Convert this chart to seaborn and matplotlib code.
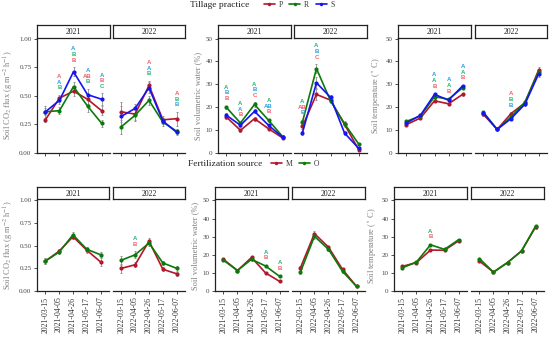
import matplotlib
matplotlib.use("Agg")
import matplotlib.pyplot as plt
import seaborn as sns
import pandas as pd
from matplotlib.lines import Line2D

# sampling dates (one facet per year)
dates = ["2021-03-15", "2021-04-05", "2021-04-26", "2021-05-17", "2021-06-07",
         "2022-03-15", "2022-04-05", "2022-04-26", "2022-05-17", "2022-06-07"]
years = ["2021", "2022"]

# tillage practice: P, R, S
tillage = ["P", "R", "S"]
co2_P = [0.29, 0.48, 0.54, 0.47, 0.37, 0.36, 0.34, 0.59, 0.29, 0.30]
co2_R = [0.36, 0.37, 0.58, 0.41, 0.26, 0.23, 0.33, 0.46, 0.27, 0.19]
co2_S = [0.36, 0.46, 0.71, 0.51, 0.47, 0.32, 0.39, 0.57, 0.28, 0.18]
co2_P_se = [0.02, 0.03, 0.04, 0.04, 0.04, 0.09, 0.05, 0.04, 0.03, 0.06]
co2_R_se = [0.03, 0.03, 0.04, 0.05, 0.03, 0.06, 0.05, 0.04, 0.03, 0.02]
co2_S_se = [0.05, 0.03, 0.04, 0.05, 0.05, 0.09, 0.04, 0.05, 0.03, 0.02]

swc_P = [15.7, 9.9, 15.0, 10.6, 6.6, 11.6, 25.6, 23.1, 12.5, 1.5]
swc_R = [19.9, 13.1, 21.2, 14.3, 7.2, 13.5, 36.9, 22.8, 12.8, 4.0]
swc_S = [16.5, 12.1, 18.2, 12.1, 6.9, 8.8, 30.7, 24.3, 8.7, 2.1]
swc_P_se = [0.8, 0.6, 0.8, 0.7, 0.6, 1.0, 2.5, 1.0, 1.0, 0.4]
swc_R_se = [0.8, 0.6, 0.9, 0.7, 0.6, 1.0, 2.0, 1.0, 1.0, 0.4]
swc_S_se = [0.8, 0.6, 0.9, 0.7, 0.6, 1.0, 2.5, 1.0, 1.0, 0.4]

tmp_P = [12.4, 15.3, 22.8, 21.5, 25.6, 16.9, 10.3, 17.2, 21.9, 36.3]
tmp_R = [13.8, 16.2, 24.6, 23.5, 28.5, 17.9, 10.3, 15.7, 22.1, 35.6]
tmp_S = [13.1, 16.5, 25.6, 23.1, 29.3, 17.5, 10.3, 15.0, 21.3, 34.6]
tmp_P_se = [0.5, 0.5, 0.6, 0.5, 0.5, 0.6, 0.4, 0.6, 0.6, 1.2]
tmp_R_se = [0.5, 0.5, 0.6, 0.5, 0.5, 0.6, 0.4, 0.6, 0.6, 1.2]
tmp_S_se = [0.5, 0.5, 0.6, 0.5, 0.5, 0.6, 0.4, 0.6, 0.6, 1.2]

# fertilization source: M, O
fert = ["M", "O"]
co2_M = [0.33, 0.44, 0.60, 0.45, 0.32, 0.25, 0.29, 0.55, 0.24, 0.19]
co2_O = [0.33, 0.43, 0.62, 0.46, 0.40, 0.34, 0.40, 0.53, 0.31, 0.25]
co2_M_se = [0.03, 0.02, 0.03, 0.03, 0.04, 0.05, 0.03, 0.03, 0.02, 0.02]
co2_O_se = [0.03, 0.02, 0.03, 0.03, 0.03, 0.05, 0.04, 0.03, 0.02, 0.03]

swc_M = [17.5, 11.3, 18.5, 10.0, 5.3, 12.8, 31.7, 24.2, 11.9, 2.5]
swc_O = [17.0, 11.3, 17.5, 13.8, 8.1, 10.4, 30.2, 23.0, 10.8, 2.5]
swc_M_se = [0.6, 0.6, 0.7, 0.6, 0.5, 0.8, 1.5, 0.8, 0.8, 0.3]
swc_O_se = [0.6, 0.6, 0.7, 0.6, 0.5, 0.8, 1.5, 0.8, 0.8, 0.3]

tmp_M = [13.6, 15.7, 22.6, 22.5, 27.7, 16.5, 10.4, 15.7, 22.1, 35.3]
tmp_O = [12.8, 16.0, 25.5, 23.0, 28.3, 17.9, 10.4, 15.7, 22.1, 35.8]
tmp_M_se = [0.4, 0.4, 0.5, 0.4, 0.4, 0.5, 0.3, 0.4, 0.4, 0.8]
tmp_O_se = [0.4, 0.4, 0.5, 0.4, 0.4, 0.5, 0.3, 0.4, 0.4, 0.8]

# significance letters: date index -> (letter, group) from top to bottom
co2_till_letters = {1: [("A", "P"), ("A", "S"), ("B", "R")],
                    2: [("A", "S"), ("B", "R"), ("B", "P")],
                    3: [("A", "S"), ("AB", "P"), ("B", "R")],
                    4: [("A", "S"), ("B", "P"), ("C", "R")],
                    7: [("A", "P"), ("A", "S"), ("B", "R")],
                    9: [("A", "P"), ("B", "R"), ("B", "S")]}
swc_till_letters = {0: [("A", "R"), ("B", "S"), ("B", "P")],
                    1: [("A", "R"), ("A", "S"), ("B", "P")],
                    2: [("A", "R"), ("B", "S"), ("C", "P")],
                    3: [("A", "R"), ("AB", "S"), ("B", "P")],
                    5: [("A", "R"), ("AB", "P"), ("B", "S")],
                    6: [("A", "R"), ("B", "S"), ("C", "P")]}
tmp_till_letters = {2: [("A", "S"), ("A", "R"), ("B", "P")],
                    3: [("A", "S"), ("A", "R"), ("B", "P")],
                    4: [("A", "S"), ("A", "R"), ("B", "P")],
                    7: [("A", "P"), ("B", "R"), ("B", "S")]}
co2_fert_letters = {6: [("A", "O"), ("B", "M")]}
swc_fert_letters = {3: [("A", "O"), ("B", "M")], 4: [("A", "O"), ("B", "M")]}
tmp_fert_letters = {2: [("A", "O"), ("B", "M")]}

line_cols = {"P": "#B2182B", "R": "#0B7A0B", "S": "#1515F0",
             "M": "#B2182B", "O": "#0B7A0B"}
letter_cols = {"P": "#F0606A", "R": "#22B573", "S": "#2A9FE0",
               "M": "#F0606A", "O": "#22B573"}

W, H = 550, 337

sns.set_theme(style="ticks")
plt.rcParams["font.family"] = ["Liberation Serif", "DejaVu Serif"]
plt.rcParams["mathtext.fontset"] = "stix"


def rect(x0, y0, x1, y1):
    return [x0 / W, 1 - y1 / H, (x1 - x0) / W, (y1 - y0) / H]


def long_df(groups, vals, ses):
    rows = []
    for g, v, s in zip(groups, vals, ses):
        for i, d in enumerate(dates):
            rows.append(dict(date=d, year=d[:4], idx=i, pos=i % 5,
                             group=g, value=v[i], se=s[i]))
    return pd.DataFrame(rows)


def draw_panel(fig, xs, y0, y1, df, order, letters, ylim, yticks, ytlabels,
               ylabel, show_dates):
    for k, yr in enumerate(years):
        x0, x1 = xs[k]
        ax = fig.add_axes(rect(x0, y0, x1, y1))
        sub = df[df.year == yr]
        ax.errorbar(sub.pos, sub.value, yerr=sub.se, fmt="none",
                    ecolor="#8a8a8a", elinewidth=0.6, capsize=0.8,
                    capthick=0.6, zorder=1)
        sns.lineplot(data=sub, x="pos", y="value", hue="group",
                     hue_order=order, palette=line_cols, marker="o",
                     markersize=3, markeredgewidth=0, linewidth=1.2,
                     legend=False, ax=ax, errorbar=None, sort=False, zorder=2)
        for idx, labs in letters.items():
            if dates[idx][:4] != yr:
                continue
            pts = sub[sub.idx == idx]
            top = (pts.value + pts.se).max()
            for j, (txt, g) in enumerate(reversed(labs)):
                ax.annotate(txt, (idx % 5, top), xytext=(0, 5 + 4.1 * j),
                            textcoords="offset points", ha="center",
                            va="center", color=letter_cols[g], fontsize=4.3,
                            fontweight="bold", family="Liberation Sans",
                            annotation_clip=False)
        ax.set_xlim(-0.6, 4.6)
        ax.set_ylim(*ylim)
        ax.set_xticks(range(5))
        ax.set_xlabel("")
        ax.set_facecolor("white")
        for s in ["top", "right"]:
            ax.spines[s].set_visible(False)
        ax.spines["bottom"].set_color("#222222")
        ax.spines["bottom"].set_linewidth(0.9)
        ax.tick_params(axis="x", length=2.5, width=0.6, color="#333333",
                       labelsize=5.6, labelcolor="#333333", pad=1.5)
        if show_dates:
            ax.set_xticklabels(dates[k * 5:(k + 1) * 5], rotation=90)
        else:
            ax.set_xticklabels([])
        if k == 0:
            ax.set_yticks(yticks)
            ax.set_yticklabels(ytlabels)
            ax.spines["left"].set_color("#222222")
            ax.spines["left"].set_linewidth(0.9)
            ax.tick_params(axis="y", length=2.5, width=0.6, color="#333333",
                           labelsize=5, labelcolor="#444444", pad=1.5)
            ax.set_ylabel(ylabel, color="#808080", fontsize=6, labelpad=2.5)
        else:
            ax.spines["left"].set_visible(False)
            ax.set_yticks([])
            ax.set_ylabel("")
        # facet strip
        sx = fig.add_axes(rect(x0, y0 - 13, x1, y0 - 0.5))
        sx.set_xticks([])
        sx.set_yticks([])
        sx.set_facecolor("white")
        for s in sx.spines.values():
            s.set_color("#222222")
            s.set_linewidth(0.9)
        sx.text(0.5, 0.45, yr, ha="center", va="center", fontsize=5.6,
                color="#222222", transform=sx.transAxes)


fig = plt.figure(figsize=(W / 100, H / 100), dpi=100)
fig.patch.set_facecolor("white")

co2_lab = r"Soil CO$_2$ flux (g m$^{-2}$ h$^{-1}$)"
swc_lab = "Soil volumetric water (%)"
tmp_lab = r"Soil temperature ($^\circ$ C)"
co2_ticks = [0, 0.25, 0.5, 0.75, 1.0]
co2_tl = ["0.00", "0.25", "0.50", "0.75", "1.00"]
pct_ticks = [0, 10, 20, 30, 40, 50]
pct_tl = [str(t) for t in pct_ticks]

till_co2 = long_df(tillage, [co2_P, co2_R, co2_S], [co2_P_se, co2_R_se, co2_S_se])
till_swc = long_df(tillage, [swc_P, swc_R, swc_S], [swc_P_se, swc_R_se, swc_S_se])
till_tmp = long_df(tillage, [tmp_P, tmp_R, tmp_S], [tmp_P_se, tmp_R_se, tmp_S_se])
fert_co2 = long_df(fert, [co2_M, co2_O], [co2_M_se, co2_O_se])
fert_swc = long_df(fert, [swc_M, swc_O], [swc_M_se, swc_O_se])
fert_tmp = long_df(fert, [tmp_M, tmp_O], [tmp_M_se, tmp_O_se])

# top row: tillage practice
draw_panel(fig, [(37, 110), (113, 185)], 38, 153, till_co2, tillage,
           co2_till_letters, (0, 1.005), co2_ticks, co2_tl, co2_lab, False)
draw_panel(fig, [(218, 291), (294, 367)], 38, 153, till_swc, tillage,
           swc_till_letters, (0, 50.25), pct_ticks, pct_tl, swc_lab, False)
draw_panel(fig, [(398, 471), (475, 547)], 38, 153, till_tmp, tillage,
           tmp_till_letters, (0, 50.25), pct_ticks, pct_tl, tmp_lab, False)

# bottom row: fertilization source
draw_panel(fig, [(37, 109), (113, 185)], 200, 291, fert_co2, fert,
           co2_fert_letters, (0, 1.005), co2_ticks, co2_tl, co2_lab, True)
draw_panel(fig, [(215, 288), (292, 365)], 200, 291, fert_swc, fert,
           swc_fert_letters, (0, 50.25), pct_ticks, pct_tl, swc_lab, True)
draw_panel(fig, [(394, 467), (471, 544)], 200, 291, fert_tmp, fert,
           tmp_fert_letters, (0, 50.25), pct_ticks, pct_tl, tmp_lab, True)

# legends
for title, grp, ytop, xt in [("Tillage practice", tillage, 5, 190),
                             ("Fertilization source", fert, 164, 188)]:
    fig.text(xt / W, 1 - ytop / H, title, ha="left", va="center",
             fontsize=6.8, color="#222222")
    handles = [Line2D([], [], color=line_cols[g], marker="o", markersize=2.5,
                      markeredgewidth=0, linewidth=1.2) for g in grp]
    fig.legend(handles, grp, loc="center left", ncol=len(grp),
               bbox_to_anchor=((xt + (70 if len(grp) == 3 else 79)) / W, 1 - ytop / H),
               frameon=False, fontsize=5.5, handlelength=1.4,
               handletextpad=0.5, columnspacing=0.9, borderpad=0,
               labelcolor="#333333")

fig.savefig("out.png", dpi=100, facecolor="white")
